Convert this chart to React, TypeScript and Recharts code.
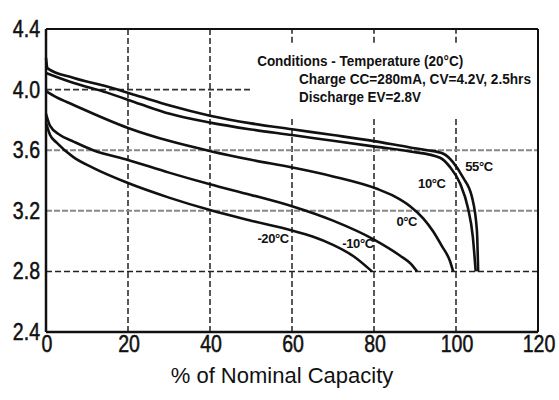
import { LineChart, Line, XAxis, YAxis, ReferenceLine, ReferenceDot } from 'recharts'

// axis ticks
const capacityTicks = [0, 20, 40, 60, 80, 100, 120]
const voltageTicks = [2.4, 2.8, 3.2, 3.6, 4.0, 4.4]

// discharge curves: % of nominal capacity -> volts
const cap55 = [0, 0.4, 6.6, 14.9, 22.9, 30.2, 40, 50, 60, 70, 80, 88.8, 93, 96.8, 99.3, 101.7, 103.9, 105.1, 105.4]
const volt55 = [4.21, 4.14, 4.078, 4.02, 3.955, 3.895, 3.828, 3.777, 3.738, 3.7, 3.66, 3.618, 3.6, 3.578, 3.52, 3.42, 3.29, 3.07, 2.8]

const cap10 = [0, 6.6, 14.9, 22.9, 30.2, 40, 50, 60, 70, 80.7, 88.8, 96.1, 98.5, 101, 102.9, 104.1, 104.8]
const volt10 = [4.11, 4.045, 3.98, 3.905, 3.84, 3.782, 3.737, 3.7, 3.662, 3.622, 3.592, 3.55, 3.49, 3.38, 3.22, 3.03, 2.8]

const cap0 = [0, 2.5, 6.6, 20, 30.2, 40.4, 50, 60.2, 70, 80.7, 85, 88.8, 92, 94.4, 96.5, 98.5, 99.3]
const volt0 = [3.99, 3.95, 3.9, 3.747, 3.66, 3.592, 3.537, 3.485, 3.427, 3.345, 3.295, 3.23, 3.15, 3.065, 2.97, 2.87, 2.8]

const capM10 = [0, 1, 3.4, 6.7, 11.5, 20, 30, 40, 50, 60, 70, 80, 86.3, 89, 90.5]
const voltM10 = [3.84, 3.76, 3.7, 3.657, 3.6, 3.536, 3.452, 3.375, 3.305, 3.23, 3.135, 3.01, 2.905, 2.85, 2.8]

const capM20 = [0, 1, 2.6, 6.6, 11.5, 20, 30, 40, 50, 60, 65, 70, 75, 79.5]
const voltM20 = [3.78, 3.7, 3.65, 3.556, 3.483, 3.383, 3.287, 3.205, 3.135, 3.07, 3.03, 2.975, 2.9, 2.8]

const curveNames = ['55°C', '10°C', '0°C', '-10°C', '-20°C']
const curveLabelX = [105.6, 94.1, 88.0, 76.1, 55.4]
const curveLabelY = [3.49, 3.378, 3.127, 2.981, 3.014]

const conditionLines = ['Conditions - Temperature (20°C)', 'Charge CC=280mA, CV=4.2V, 2.5hrs', 'Discharge EV=2.8V']
const conditionX = [51.5, 61.7, 61.7]
const conditionY = [4.157, 4.038, 3.919]
const conditionWidth = [206, 232, 122]

const toPoints = (caps: number[], volts: number[]) => caps.map((x, i) => ({ x, v: volts[i] }))

const curves = [
  toPoints(cap55, volt55),
  toPoints(cap10, volt10),
  toPoints(cap0, volt0),
  toPoints(capM10, voltM10),
  toPoints(capM20, voltM20),
]

const FONT = '"Liberation Sans", Arial, sans-serif'
const INK = '#111'

const XTick = ({ x, y, payload }: any) => (
  <g transform={`translate(${x + 1},${y})`}>
    <text x={0} y={0} dy={20} textAnchor="middle" transform="scale(0.85,1)" fontSize={23} fontFamily={FONT} fill={INK} stroke={INK} strokeWidth={0.5}>
      {payload.value}
    </text>
  </g>
)

const YTick = ({ x, y, payload }: any) => (
  <g transform={`translate(${x - 6},${y})`}>
    <text x={0} y={0} dy={8} textAnchor="end" transform="scale(0.85,1)" fontSize={23} fontFamily={FONT} fill={INK} stroke={INK} strokeWidth={0.5}>
      {Number(payload.value).toFixed(1)}
    </text>
  </g>
)

const XTitle = ({ viewBox }: any) => (
  <text x={viewBox.x + viewBox.width / 2 - 10} y={viewBox.y + 51} textAnchor="middle" fontSize={22} fontFamily={FONT} fill={INK}>
    % of Nominal Capacity
  </text>
)

const curveLabel = (text: string) => (p: any) => (
  <text
    x={p.cx}
    y={p.cy}
    textAnchor="middle"
    dominantBaseline="central"
    fontSize={13}
    fontWeight="bold"
    letterSpacing={-0.4}
    fontFamily={FONT}
    fill={INK}
  >
    {text}
  </text>
)

const conditionLabel = (text: string, width: number) => (p: any) => (
  <text
    x={p.cx}
    y={p.cy}
    fontSize={14}
    fontWeight="bold"
    textLength={width}
    lengthAdjust="spacingAndGlyphs"
    fontFamily={FONT}
    fill={INK}
  >
    {text}
  </text>
)

const dashed = '6 3'

export default function App() {
  return (
    <div style={{ position: 'absolute', left: 0, top: 0, width: 559, height: 400, background: '#fff' }}>
      <LineChart width={559} height={400} margin={{ top: 29, right: 21, bottom: 0, left: 6 }}>
        <XAxis
          dataKey="x"
          type="number"
          domain={[0, 120]}
          ticks={capacityTicks}
          interval={0}
          height={68}
          tickSize={0}
          tickMargin={0}
          tickLine={false}
          axisLine={{ stroke: INK, strokeWidth: 2.5 }}
          tick={<XTick />}
          label={<XTitle />}
          allowDuplicatedCategory={false}
        />
        <YAxis
          type="number"
          domain={[2.4, 4.4]}
          ticks={voltageTicks}
          interval={0}
          width={40}
          tickSize={0}
          tickMargin={0}
          tickLine={false}
          axisLine={{ stroke: INK, strokeWidth: 2.5 }}
          tick={<YTick />}
        />

        {/* vertical grid, broken where the conditions text sits */}
        <ReferenceLine x={20} stroke="#222" strokeWidth={1.5} strokeDasharray={dashed} />
        <ReferenceLine x={40} stroke="#222" strokeWidth={1.5} strokeDasharray={dashed} />
        {[60, 80, 100].map((c) => (
          <ReferenceLine key={`lo${c}`} segment={[{ x: c, y: 2.4 }, { x: c, y: 3.82 }]} stroke="#222" strokeWidth={1.5} strokeDasharray={dashed} />
        ))}
        {[60, 80, 100].map((c) => (
          <ReferenceLine key={`hi${c}`} segment={[{ x: c, y: 4.31 }, { x: c, y: 4.4 }]} stroke="#222" strokeWidth={1.5} strokeDasharray={dashed} />
        ))}

        {/* horizontal grid */}
        <ReferenceLine segment={[{ x: 0, y: 4.0 }, { x: 50, y: 4.0 }]} stroke="#333" strokeWidth={1.8} strokeDasharray={dashed} />
        <ReferenceLine y={3.6} stroke="#888" strokeWidth={2} strokeDasharray="6 2" />
        <ReferenceLine y={3.2} stroke="#888" strokeWidth={2} strokeDasharray="6 2" />
        <ReferenceLine y={2.8} stroke="#222" strokeWidth={1.5} strokeDasharray={dashed} />

        {/* frame */}
        <ReferenceLine y={4.4} stroke={INK} strokeWidth={2} />
        <ReferenceLine x={120} stroke={INK} strokeWidth={2} />

        {curves.map((d, i) => (
          <Line
            key={curveNames[i]}
            data={d}
            dataKey="v"
            type="monotone"
            stroke={INK}
            strokeWidth={2.6}
            dot={false}
            activeDot={false}
            isAnimationActive={false}
          />
        ))}

        {curveNames.map((n, i) => (
          <ReferenceDot key={`lbl${n}`} x={curveLabelX[i]} y={curveLabelY[i]} r={0} shape={curveLabel(n)} />
        ))}

        {conditionLines.map((t, i) => (
          <ReferenceDot key={`cond${i}`} x={conditionX[i]} y={conditionY[i]} r={0} shape={conditionLabel(t, conditionWidth[i])} />
        ))}
      </LineChart>
    </div>
  )
}
